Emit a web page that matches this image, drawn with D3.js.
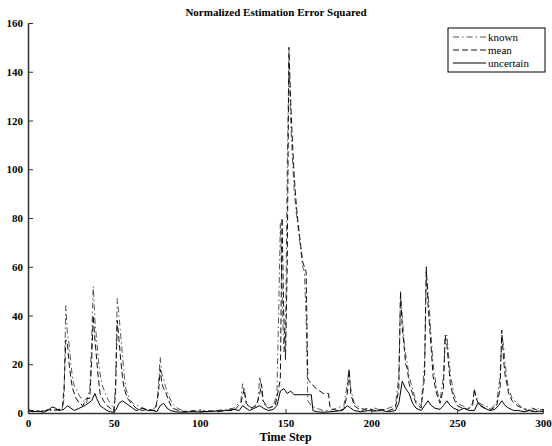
<!DOCTYPE html>
<html>
<head>
<meta charset="utf-8">
<script src="https://cdn.jsdelivr.net/npm/d3@7"></script>
<style>
  body { margin: 0; background: #fff; }
  text { font-family: "Liberation Serif", "DejaVu Serif", serif; }
</style>
</head>
<body>
<div id="chart"></div>
<script>
// values, [time step, NEES]
const knownPts = [[0,1.5],[4,0.5],[8,1],[12,0.8],[16,1.5],[20,1],[21,6],[22,44],[23,32],[24,28],[25,20],[26,14],[27,11],[28,10],[30,7],[32,5],[34,4],[36,10],[37,28],[38,52],[39,38],[40,30],[41,22],[42,16],[43,12],[45,8],[47,5],[49,3],[50,1],[51,12],[52,47],[53,40],[54,32],[55,24],[56,16],[57,10],[59,6],[61,4],[64,3],[67,2],[70,1],[73,1.5],[75,3],[76,12],[77,23],[78,16],[79,14],[80,11],[82,7],[84,4],[87,2],[90,1],[95,0.5],[100,1],[105,0.5],[110,1],[115,1.5],[120,2],[124,5],[125,12],[126,8],[128,3],[131,2],[134,5],[135,15],[136,10],[137,4],[140,2],[143,3],[145,8],[146,40],[147,78],[148,50],[149,25],[150,30],[151,100],[152,145],[153,120],[154,105],[155,92],[156,84],[157,78],[158,72],[159,66],[160,60],[161,58],[162,40],[163,5],[165,3],[168,2],[172,1],[176,1],[180,2],[184,3],[186,12],[187,18],[188,10],[190,4],[194,2],[198,1],[202,2],[206,1],[210,2],[214,3],[216,15],[217,48],[218,40],[219,30],[220,24],[221,20],[222,15],[224,10],[226,5],[229,3],[231,20],[232,58],[233,50],[234,40],[235,30],[236,20],[238,10],[240,5],[242,15],[243,30],[244,32],[245,24],[246,16],[248,8],[250,4],[253,3],[256,2],[259,4],[260,9],[261,7],[263,4],[266,3],[270,2],[273,4],[275,15],[276,32],[277,28],[278,20],[279,14],[280,10],[282,6],[285,4],[288,2],[291,1.5],[294,1],[297,2],[300,1]];

const meanPts = [[0,0.8],[4,1],[8,0.5],[12,1.5],[16,1],[20,2],[21,10],[22,30],[23,28],[24,20],[25,14],[26,10],[28,6],[30,4],[32,3],[34,6],[36,6],[37,20],[38,40],[39,30],[40,22],[41,14],[42,8],[44,5],[46,3],[48,2],[50,0.5],[51,8],[52,38],[53,30],[54,22],[55,15],[56,10],[58,6],[60,4],[63,2],[66,1],[70,1.5],[74,1],[76,8],[77,18],[78,12],[79,10],[80,9],[82,5],[84,2],[88,1],[92,0.5],[96,1],[100,0.5],[105,1],[110,0.5],[115,1],[120,1],[124,4],[126,10],[127,4],[130,2],[133,3],[135,8],[136,12],[137,5],[140,2],[144,3],[146,10],[147,14],[148,80],[149,40],[150,22],[151,60],[152,150],[153,128],[154,112],[155,98],[156,88],[157,80],[158,74],[159,68],[160,62],[161,60],[162,58],[163,14],[165,12],[168,10],[172,8],[175,8],[176,2],[180,1],[184,1.5],[186,8],[187,18],[188,8],[190,3],[194,1],[198,2],[202,1],[206,1.5],[210,1],[214,2],[216,10],[217,50],[218,35],[219,28],[220,20],[221,18],[222,12],[224,8],[226,4],[229,2],[231,15],[232,60],[233,45],[234,35],[235,25],[236,15],[238,8],[240,4],[242,10],[243,32],[244,28],[245,20],[246,12],[248,6],[250,3],[253,2],[256,1.5],[259,3],[260,10],[261,6],[263,3],[266,2],[270,1.5],[273,3],[275,10],[276,34],[277,22],[278,15],[279,12],[280,8],[282,5],[285,3],[288,2],[291,1],[294,2],[297,1],[300,1.5]];

const uncertainPts = [[0,1],[3,0.5],[6,0.8],[9,0.3],[12,1.2],[14,2.5],[16,2],[18,1],[21,1.5],[23,3],[25,2],[27,1],[30,2],[33,3],[35,4],[37,5],[39,8],[40,6],[42,3],[44,2],[46,1],[48,0.5],[50,0.3],[51,1],[53,4],[55,5],[57,4],[59,3],[61,2],[63,1],[65,1.5],[67,2],[70,1],[73,1],[75,0.5],[77,3],[79,4],[81,2],[83,1],[86,0.5],[90,0.3],[95,0.5],[100,0.4],[105,0.6],[110,0.8],[115,1],[120,1.5],[123,1],[125,3],[127,2],[129,1],[132,2],[135,3],[137,2],[140,1],[143,1.5],[145,3],[147,9],[149,10],[151,8],[153,9],[155,7.5],[160,7.5],[165,7.5],[166,1],[168,0.5],[172,0.3],[176,0.5],[180,0.8],[183,1],[186,3],[188,2],[190,1],[194,0.5],[198,1],[202,0.8],[206,1],[210,0.5],[214,1],[216,4],[218,13],[220,10],[222,8],[224,4],[226,2],[229,1],[231,3],[233,5],[235,3],[237,2],[240,1.5],[242,3],[244,5],[246,3],[248,2],[251,1],[254,2],[257,1],[260,1],[262,4],[264,3],[266,2],[269,1],[272,1.5],[274,3],[276,5],[278,3],[280,2],[283,1],[286,1],[289,0.5],[292,1],[295,0.5],[298,0.8],[300,0.5]];

const seriesNames = ["known", "mean", "uncertain"];
const xTicks = [0, 50, 100, 150, 200, 250, 300];
const yTicks = [0, 20, 40, 60, 80, 100, 120, 140, 160];

const W = 552, H = 446;
const M = { top: 23, right: 9, bottom: 33, left: 28 };

const svg = d3.select("#chart").append("svg")
  .attr("width", W).attr("height", H);

const x = d3.scaleLinear().domain([0, 300]).range([M.left, W - M.right]);
const y = d3.scaleLinear().domain([0, 160]).range([H - M.bottom, M.top]);

const styles = {
  known: { dash: "6,3,1.5,3", color: "#444", width: 0.9 },
  mean: { dash: "6,3", color: "#111", width: 1 },
  uncertain: { dash: null, color: "#000", width: 1 }
};
const data = { known: knownPts, mean: meanPts, uncertain: uncertainPts };

const line = d3.line().x(d => x(d[0])).y(d => y(d[1]));

// lines
seriesNames.forEach(name => {
  svg.append("path")
    .datum(data[name])
    .attr("fill", "none")
    .attr("stroke", styles[name].color)
    .attr("stroke-width", styles[name].width)
    .attr("stroke-dasharray", styles[name].dash)
    .attr("d", line);
});

// axes, ticks inside like matlab
const xAxis = d3.axisBottom(x).tickValues(xTicks).tickSizeInner(-4).tickSizeOuter(0).tickPadding(6);
const yAxis = d3.axisLeft(y).tickValues(yTicks).tickSizeInner(-5).tickSizeOuter(0).tickPadding(5);

const gx = svg.append("g").attr("transform", `translate(0,${H - M.bottom})`).call(xAxis);
const gy = svg.append("g").attr("transform", `translate(${M.left},0)`).call(yAxis);

[gx, gy].forEach(g => {
  g.select(".domain").attr("stroke", "#333").attr("stroke-width", 1.5);
  g.selectAll(".tick line").attr("stroke", "#333");
  g.selectAll(".tick text")
    .attr("font-family", "Liberation Serif, serif")
    .attr("font-weight", "bold")
    .attr("font-size", 11)
    .attr("fill", "#000");
});

// title and x label
svg.append("text")
  .attr("x", 276).attr("y", 16)
  .attr("text-anchor", "middle")
  .attr("font-weight", "bold")
  .attr("font-size", 11)
  .text("Normalized Estimation Error Squared");

svg.append("text")
  .attr("x", (M.left + W - M.right) / 2).attr("y", 441)
  .attr("text-anchor", "middle")
  .attr("font-weight", "bold")
  .attr("font-size", 12)
  .text("Time Step");

// legend
const lg = svg.append("g").attr("transform", "translate(448,28)");
lg.append("rect")
  .attr("width", 97).attr("height", 44)
  .attr("fill", "#fff").attr("stroke", "#000").attr("stroke-width", 1);

seriesNames.forEach((name, i) => {
  const yy = 9 + i * 13;
  lg.append("line")
    .attr("x1", 5).attr("x2", 38).attr("y1", yy).attr("y2", yy)
    .attr("stroke", styles[name].color)
    .attr("stroke-width", styles[name].width)
    .attr("stroke-dasharray", styles[name].dash);
  lg.append("text")
    .attr("x", 40).attr("y", yy + 3.5)
    .attr("font-size", 11)
    .text(name);
});
</script>
</body>
</html>
